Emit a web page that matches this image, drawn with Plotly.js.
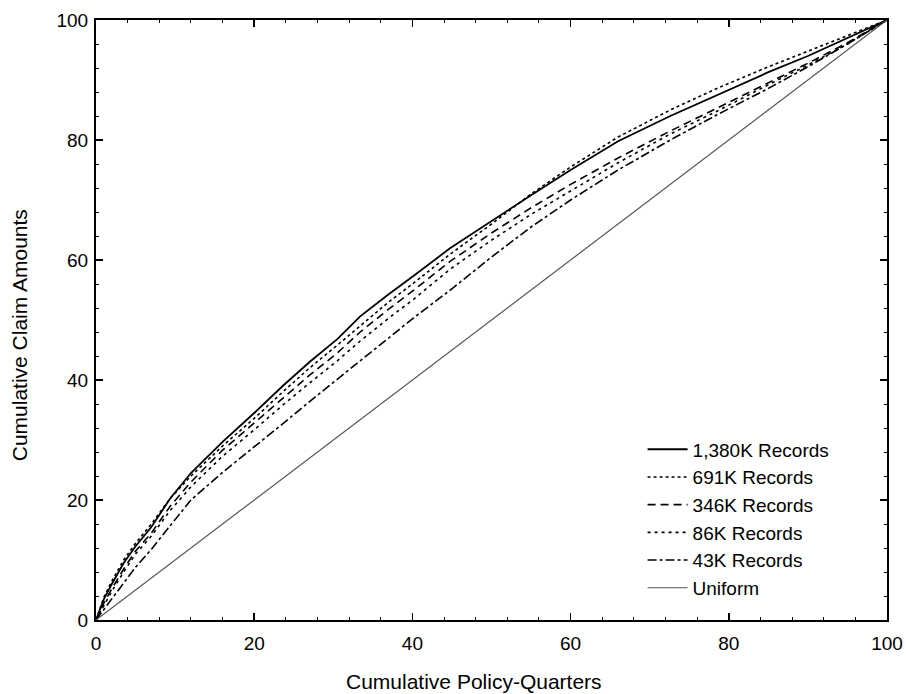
<!DOCTYPE html>
<html>
<head>
<meta charset="utf-8">
<script src="https://cdn.plot.ly/plotly-3.0.1.min.js"></script>
<style>
  html, body { margin: 0; padding: 0; background: #fff; }
  #chart { width: 906px; height: 694px; }
</style>
</head>
<body>
<div id="chart"></div>
<script>
// Cumulative policy-quarters (%)
const xPolicy = [0, 1, 2, 3.5, 5, 7, 9.4, 12, 16, 20, 23.6, 27, 30.5, 33.4, 37, 40, 44.8, 50, 55, 60, 66, 72.6, 78.5, 85, 90, 95, 100];
// Cumulative claim amounts (%) per training-set size
const rec1380K = [0, 3.5, 6, 9.5, 12.3, 15.5, 20.3, 24.5, 29.7, 34.5, 39, 43, 46.8, 50.6, 54.3, 57.2, 62, 66.5, 70.8, 75, 79.8, 84, 87.5, 91.3, 94, 97, 100];
const rec691K  = [0, 3.8, 6.5, 10, 12.8, 16, 20.3, 24, 29, 33.6, 38, 42, 45.8, 49, 53, 56, 61, 66, 71, 75.5, 80.5, 85, 88.6, 92.2, 94.8, 97.4, 100];
const rec346K  = [0, 2.8, 5.2, 8.5, 11.5, 14.5, 19, 23, 28.3, 32.8, 37, 40.8, 44.5, 48, 51.8, 54.8, 59.8, 64.5, 68.7, 72.6, 77, 81.5, 85.3, 89.5, 92.8, 96.2, 100];
const rec86K   = [0, 2.5, 4.8, 8, 11, 14, 18.3, 22.2, 27.3, 31.7, 35.8, 39.5, 43.2, 46.5, 50.3, 53.3, 58.5, 63.3, 67.6, 71.5, 76.2, 81, 84.8, 89.2, 92.5, 96, 100];
const rec43K   = [0, 1.8, 3.6, 6.2, 8.8, 11.8, 15.8, 20, 24.6, 28.8, 32.7, 36.4, 40.2, 43.2, 47, 50.2, 55, 60.5, 65.5, 70, 75, 80, 84.2, 88.6, 92.2, 96, 100];
const uniformX = [0, 100];
const uniformY = [0, 100];

const seriesNames = ["1,380K Records", "691K Records", "346K Records", "86K Records", "43K Records", "Uniform"];
const xTickVals = [0, 20, 40, 60, 80, 100];
const yTickVals = [0, 20, 40, 60, 80, 100];
const xTitle = "Cumulative Policy-Quarters";
const yTitle = "Cumulative Claim Amounts";

const FONT = "Liberation Sans, Arial, Helvetica, sans-serif";

const traces = [
  {x: xPolicy, y: rec1380K, name: seriesNames[0], mode: "lines", line: {color: "#000", width: 1.8, dash: "solid"}},
  {x: xPolicy, y: rec691K,  name: seriesNames[1], mode: "lines", line: {color: "#000", width: 1.6, dash: "dot"}},
  {x: xPolicy, y: rec346K,  name: seriesNames[2], mode: "lines", line: {color: "#000", width: 1.6, dash: "8px,5px"}},
  {x: xPolicy, y: rec86K,   name: seriesNames[3], mode: "lines", line: {color: "#000", width: 1.6, dash: "3px,4px"}},
  {x: xPolicy, y: rec43K,   name: seriesNames[4], mode: "lines", line: {color: "#000", width: 1.6, dash: "dashdot"}},
  {x: uniformX, y: uniformY, name: seriesNames[5], mode: "lines", line: {color: "#555", width: 1.2, dash: "solid"}}
];

const axisCommon = {
  range: [0, 100],
  showgrid: false,
  zeroline: false,
  showline: true,
  linecolor: "#000",
  linewidth: 2,
  mirror: "allticks",
  ticks: "inside",
  ticklen: 7,
  tickwidth: 1.5,
  tickcolor: "#000",
  tickfont: {family: FONT, size: 19, color: "#000"},
  minor: {dtick: 4, ticks: "inside", ticklen: 3, tickwidth: 1, tickcolor: "#000"}
};

const layout = {
  width: 906,
  height: 694,
  margin: {l: 96, r: 19, t: 20, b: 74},
  paper_bgcolor: "#fff",
  plot_bgcolor: "#fff",
  font: {family: FONT, color: "#000"},
  xaxis: Object.assign({}, axisCommon, {tickvals: xTickVals, ticklabelstandoff: 5}),
  yaxis: Object.assign({}, axisCommon, {tickvals: yTickVals, ticklabelstandoff: 2}),
  showlegend: true,
  legend: {
    x: 0.691, y: 0.316, xanchor: "left", yanchor: "top",
    bgcolor: "rgba(0,0,0,0)",
    font: {family: FONT, size: 19, color: "#000"},
    itemwidth: 40,
    tracegroupgap: 0
  },
  annotations: [
    {text: xTitle, xref: "paper", yref: "paper", x: 0.478, y: -0.103, xanchor: "center", yanchor: "middle",
     showarrow: false, font: {family: FONT, size: 21, color: "#000"}},
    {text: yTitle, xref: "paper", yref: "paper", x: -0.097, y: 0.475, xanchor: "center", yanchor: "middle",
     textangle: -90, showarrow: false, font: {family: FONT, size: 21, color: "#000"}}
  ]
};

Plotly.newPlot("chart", traces, layout, {displayModeBar: false, staticPlot: true});
</script>
</body>
</html>
